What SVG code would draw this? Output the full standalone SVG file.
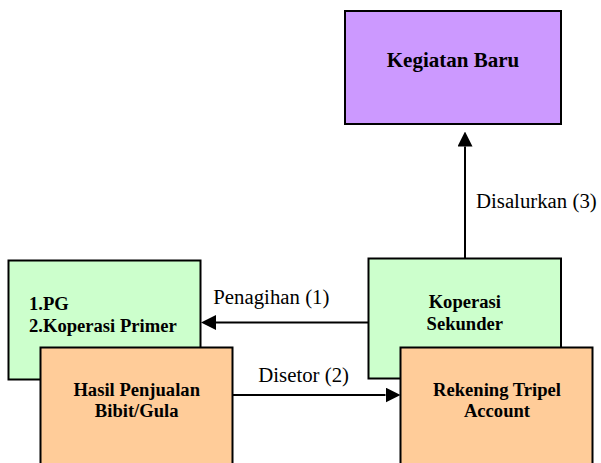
<svg xmlns="http://www.w3.org/2000/svg" width="601" height="463" viewBox="0 0 601 463">
  <style>
    .box { stroke: #000; stroke-width: 2; }
    .purple { fill: #CC99FF; }
    .green { fill: #CCFFCC; }
    .orange { fill: #FFCC99; }
    .title { font-family: 'Liberation Serif', 'DejaVu Serif', serif; font-weight: bold; fill: #000; }
    .label { font-family: 'Liberation Serif', 'DejaVu Serif', serif; font-size: 20.8px; fill: #000; }
    .conn { stroke: #000; stroke-width: 2; fill: none; marker-end: url(#arrow); }
  </style>
  <defs>
    <marker id="arrow" markerUnits="userSpaceOnUse" markerWidth="15" markerHeight="15" viewBox="0 0 15 15" refX="0" refY="7.5" orient="auto">
      <path d="M0,0 L15,7.5 L0,15 Z" fill="#000"/>
    </marker>
  </defs>

  <rect width="601" height="463" fill="#fff"/>

  <g id="kegiatan-baru">
    <rect class="box purple" x="345" y="11" width="216" height="113"/>
    <text class="title" x="453" y="67" font-size="21" text-anchor="middle">Kegiatan Baru</text>
  </g>

  <g id="pg-koperasi-primer">
    <rect class="box green" x="8.5" y="260.5" width="192" height="119"/>
    <text class="title" x="29" y="310" font-size="18.6">1.PG</text>
    <text class="title" x="29" y="331.7" font-size="18.6">2.Koperasi Primer</text>
  </g>

  <g id="hasil-penjualan">
    <rect class="box orange" x="40.5" y="347.5" width="192" height="122"/>
    <text class="title" x="136.7" y="395.7" font-size="18.6" text-anchor="middle">Hasil Penjualan</text>
    <text class="title" x="136.7" y="416.7" font-size="18.6" text-anchor="middle">Bibit/Gula</text>
  </g>

  <g id="koperasi-sekunder">
    <rect class="box green" x="368.5" y="258.5" width="192.5" height="120"/>
    <text class="title" x="464.8" y="308.3" font-size="18.6" text-anchor="middle">Koperasi</text>
    <text class="title" x="464.8" y="330" font-size="18.6" text-anchor="middle">Sekunder</text>
  </g>

  <g id="rekening-tripel">
    <rect class="box orange" x="400.5" y="347.5" width="192" height="122"/>
    <text class="title" x="497" y="395.7" font-size="18.6" text-anchor="middle">Rekening Tripel</text>
    <text class="title" x="497" y="416.7" font-size="18.6" text-anchor="middle">Account</text>
  </g>

  <g id="connectors">
    <line class="conn" x1="465" y1="258" x2="465" y2="146.5"/>
    <text class="label" x="476" y="208.3">Disalurkan (3)</text>
    <line class="conn" x1="369" y1="322.5" x2="216" y2="322.5"/>
    <text class="label" x="213.3" y="304.3">Penagihan (1)</text>
    <line class="conn" x1="233" y1="395" x2="385.5" y2="395"/>
    <text class="label" x="258.3" y="382.3">Disetor (2)</text>
  </g>
</svg>
